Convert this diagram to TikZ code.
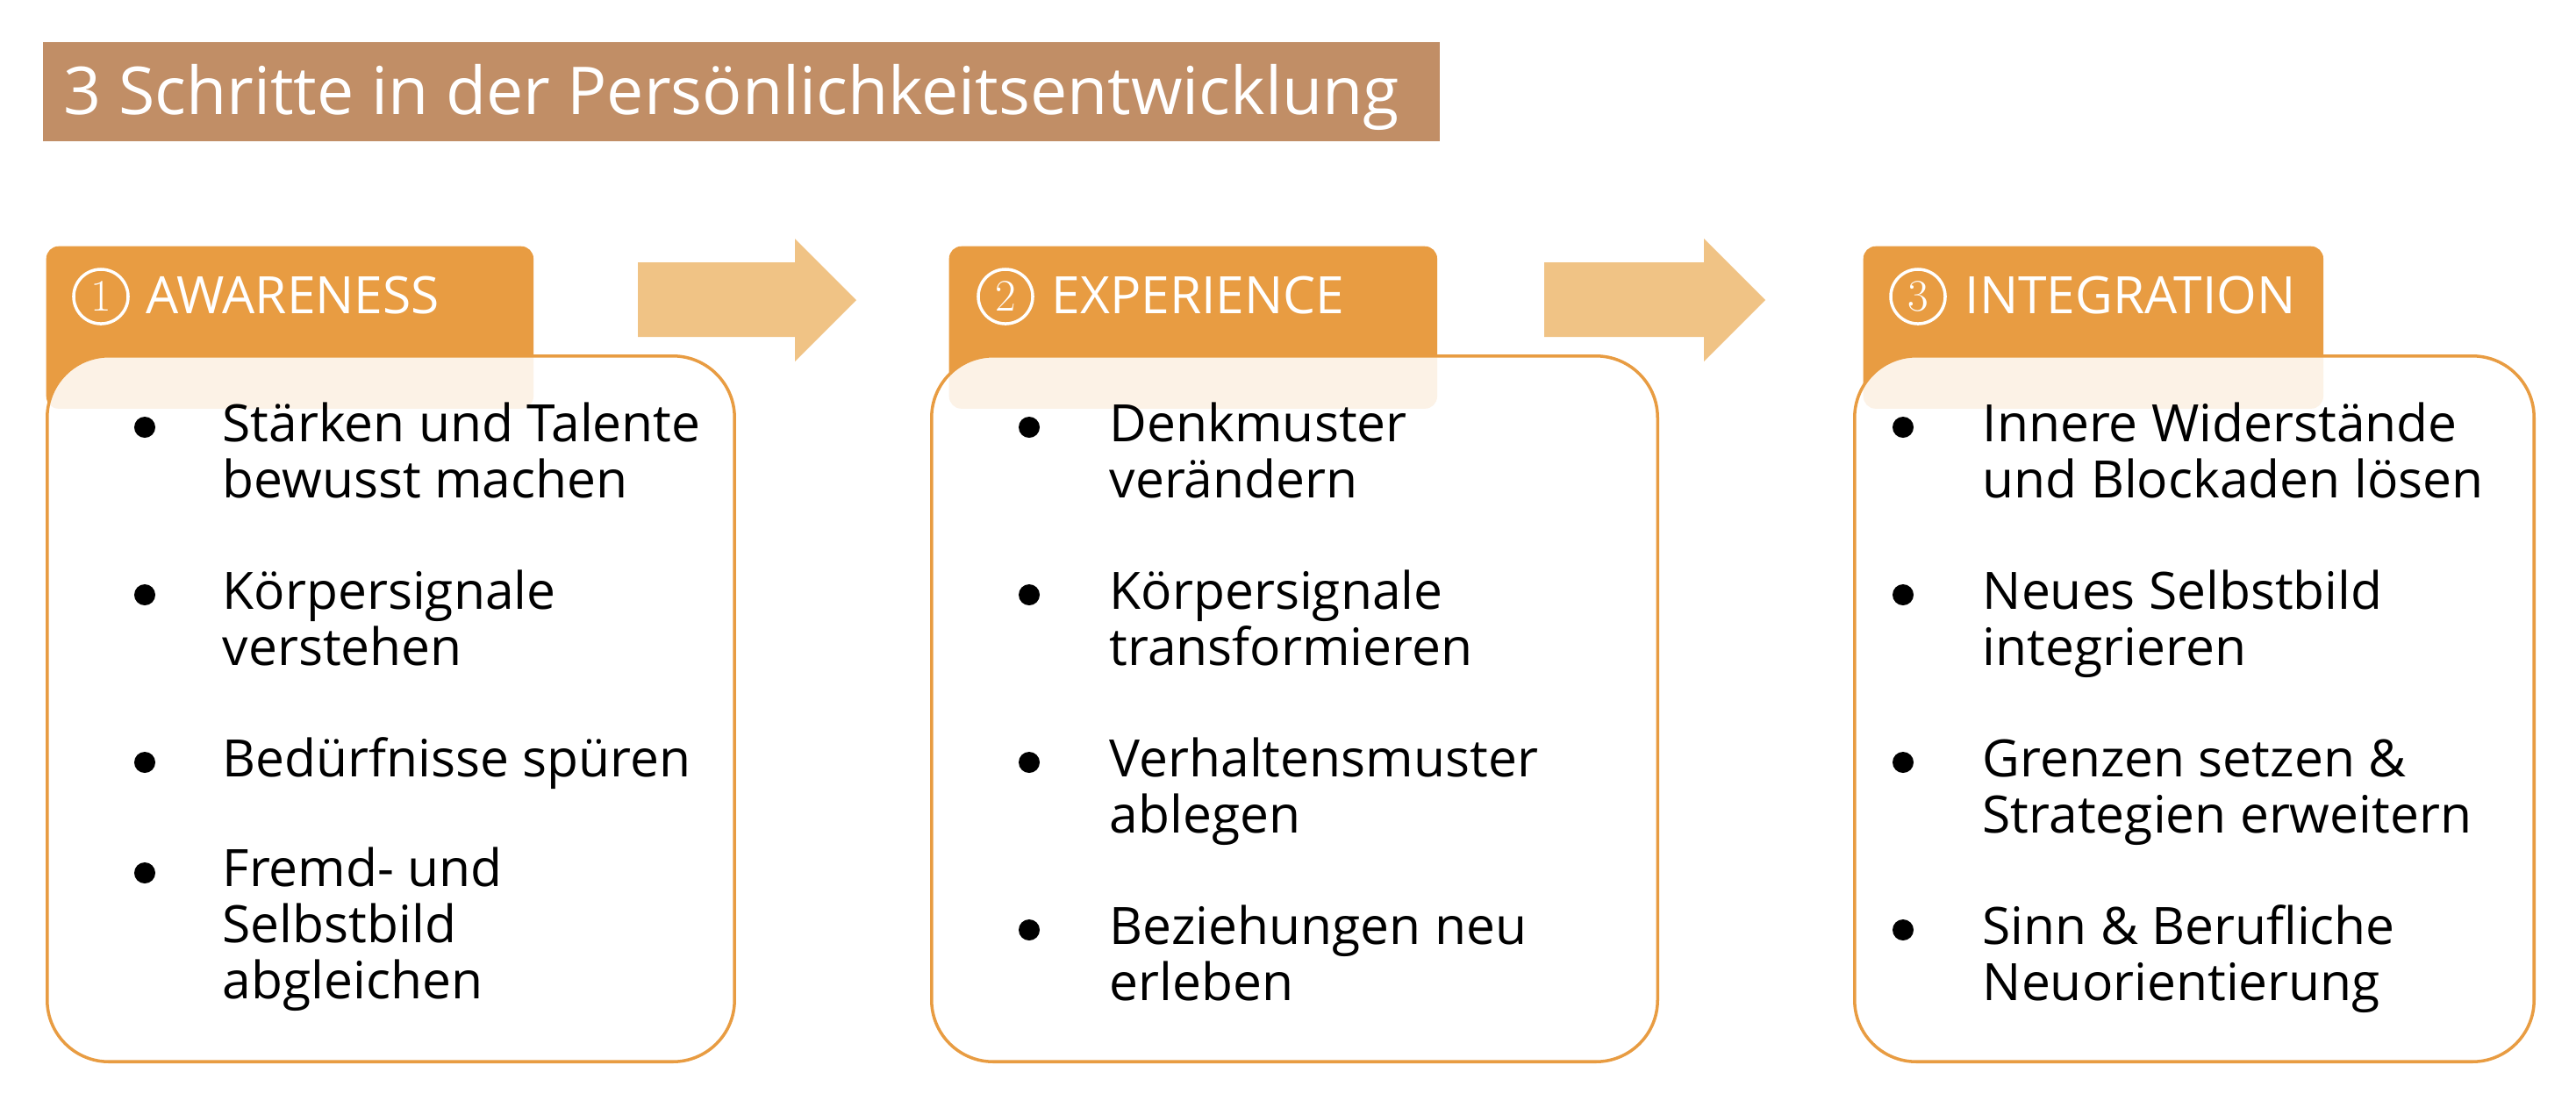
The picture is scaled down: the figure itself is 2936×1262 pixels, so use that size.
\documentclass[tikz,border=0pt]{standalone}
\usepackage{fontspec}
\newfontfamily\osans{Open Sans}
\newfontfamily\lmdigits{Latin Modern Roman}
\definecolor{titlebrown}{HTML}{C18E66}
\definecolor{taborange}{HTML}{E89C42}
\definecolor{arrowfill}{HTML}{F0C385}
\newcommand{\bodyfont}{\osans\fontsize{16.7}{18.1}\selectfont}

\begin{document}
\begin{tikzpicture}[x=0.01cm,y=-0.01cm,
    tab/.style={fill=taborange,rounded corners=4pt,anchor=north west,inner sep=0pt},
    card/.style={draw=taborange,line width=1pt,fill=white,fill opacity=0.87,
      rounded corners=20pt,anchor=north west,inner sep=0pt,minimum height=8.04cm},
    numcirc/.style={circle,draw=white,line width=1pt,text=white,inner sep=0pt,
      minimum size=0.62cm,font=\lmdigits\fontsize{14.6}{15}\selectfont},
    tabtext/.style={anchor=base west,text=white,inner sep=0pt,font=\bodyfont},
    dot/.style={circle,fill=black,inner sep=0pt,minimum size=0.24cm},
    item/.style={anchor=base west,align=left,inner sep=0pt,font=\bodyfont}]
  \useasboundingbox (0,0) rectangle (2936,1262);

  % title
  \node[fill=titlebrown,anchor=north west,inner sep=0pt,minimum width=15.91cm,minimum height=1.13cm] (titlebar) at (48,47) {};
  \node[anchor=base west,text=white,inner sep=0pt,font=\osans\fontsize{21.4}{26}\selectfont] (title) at (72,130) {3 Schritte in der Persönlichkeitsentwicklung};

  % tabs
  \node[tab,minimum width=5.55cm,minimum height=1.85cm] (tabA) at (52,280) {};
  \node[tab,minimum width=5.56cm,minimum height=1.85cm] (tabB) at (1081,280) {};
  \node[tab,minimum width=5.24cm,minimum height=1.85cm] (tabC) at (2123,280) {};
  \node[numcirc] (numA) at (115,338) {1};
  \node[numcirc] (numB) at (1146,338) {2};
  \node[numcirc] (numC) at (2186,338) {3};
  \node[tabtext] (headA) at (166,357) {AWARENESS};
  \node[tabtext] (headB) at (1198,357) {EXPERIENCE};
  \node[tabtext] (headC) at (2239,357) {INTEGRATION};

  % cards
  \node[card,minimum width=7.83cm] (cardA) at (52,404) {};
  \node[card,minimum width=8.27cm] (cardB) at (1060,404) {};
  \node[card,minimum width=7.74cm] (cardC) at (2112,404) {};

  % arrows
  \fill[arrowfill] (727,299) -- (906,299) -- (906,272) -- (976,342) -- (906,412) -- (906,384) -- (727,384) -- cycle;
  \fill[arrowfill] (1760,299) -- (1942,299) -- (1942,272) -- (2012,342) -- (1942,412) -- (1942,384) -- (1760,384) -- cycle;

  % awareness (items placed at the baseline of their last line)
  \node[dot] (dA1) at (165,487) {};
  \node[dot] (dA2) at (165,678) {};
  \node[dot] (dA3) at (165,869) {};
  \node[dot] (dA4) at (165,995) {};
  \node[item] (iA1) at (253,567) {Stärken und Talente\\bewusst machen};
  \node[item] (iA2) at (253,758) {Körpersignale\\verstehen};
  \node[item] (iA3) at (253,885) {Bedürfnisse spüren};
  \node[item] (iA4) at (253,1138) {Fremd- und\\Selbstbild\\abgleichen};

  % experience
  \node[dot] (dB1) at (1173,487) {};
  \node[dot] (dB2) at (1173,678) {};
  \node[dot] (dB3) at (1173,869) {};
  \node[dot] (dB4) at (1173,1060) {};
  \node[item] (iB1) at (1264,567) {Denkmuster\\verändern};
  \node[item] (iB2) at (1264,758) {Körpersignale\\transformieren};
  \node[item] (iB3) at (1264,949) {Verhaltensmuster\\ablegen};
  \node[item] (iB4) at (1264,1140) {Beziehungen neu\\erleben};

  % integration
  \node[dot] (dC1) at (2169,487) {};
  \node[dot] (dC2) at (2169,678) {};
  \node[dot] (dC3) at (2169,869) {};
  \node[dot] (dC4) at (2169,1060) {};
  \node[item] (iC1) at (2259,567) {Innere Widerstände\\und Blockaden lösen};
  \node[item] (iC2) at (2259,758) {Neues Selbstbild\\integrieren};
  \node[item] (iC3) at (2259,949) {Grenzen setzen \&\\Strategien erweitern};
  \node[item] (iC4) at (2259,1140) {Sinn \& Berufliche\\Neuorientierung};
\end{tikzpicture}
\end{document}
